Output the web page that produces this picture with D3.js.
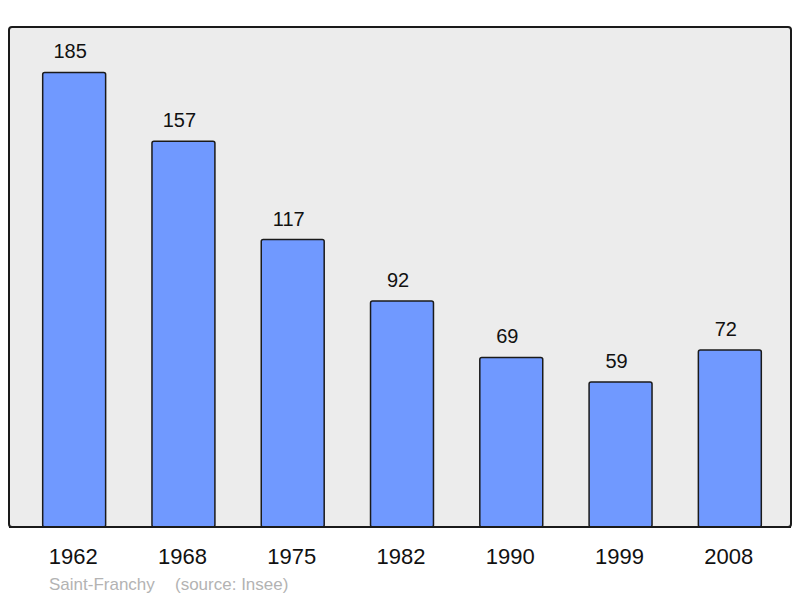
<!DOCTYPE html>
<html>
<head>
<meta charset="utf-8">
<script src="https://cdn.jsdelivr.net/npm/d3@7"></script>
<style>
  body { margin: 0; background: #fff; }
  svg { display: block; font-family: "Liberation Sans", Arial, sans-serif; }
</style>
</head>
<body>
<svg id="chart" width="800" height="598"></svg>
<script>
const years = ["1962", "1968", "1975", "1982", "1990", "1999", "2008"];
const population = [185, 157, 117, 92, 69, 59, 72];
const townName = "Saint-Franchy";
const sourceText = "(source: Insee)";

const svg = d3.select("#chart");
const frame = { left: 9, top: 27, right: 791, bottom: 527 };

const x = d3
	.scaleBand()
	.domain(years)
	.range([frame.left + 2, frame.right + 2])
	.paddingInner(0.424)
	.paddingOuter(0.29);

const y = d3
	.scaleLinear()
	.domain([0, d3.max(population) * 1.1])
	.range([frame.bottom, frame.top]);

svg.append("rect")
	.attr("x", frame.left)
	.attr("y", frame.top)
	.attr("width", frame.right - frame.left)
	.attr("height", frame.bottom - frame.top)
	.attr("rx", 3)
	.attr("fill", "#ececec")
	.attr("stroke", "#1a1a1a")
	.attr("stroke-width", 2);

const data = years.map((yr, i) => ({ year: yr, value: population[i] }));

svg.selectAll(".bar")
	.data(data)
	.join("rect")
	.attr("class", "bar")
	.attr("x", (d) => x(d.year))
	.attr("y", (d) => y(d.value))
	.attr("width", x.bandwidth())
	.attr("height", (d) => y(0) - y(d.value))
	.attr("rx", 2)
	.attr("fill", "#7099ff")
	.attr("stroke", "#1a1a1a")
	.attr("stroke-width", 1.5);

svg.selectAll(".val")
	.data(data)
	.join("text")
	.attr("class", "val")
	.attr("x", (d) => x(d.year) + x.bandwidth() / 2 - 4)
	.attr("y", (d) => y(d.value) - 14)
	.attr("text-anchor", "middle")
	.attr("font-size", 20)
	.attr("fill", "#111")
	.text((d) => d.value);

// redraw frame bottom line on top of the bars
svg.append("line")
	.attr("x1", frame.left)
	.attr("x2", frame.right)
	.attr("y1", frame.bottom)
	.attr("y2", frame.bottom)
	.attr("stroke", "#1a1a1a")
	.attr("stroke-width", 2);

const xAxis = svg.append("g")
	.attr("transform", `translate(-1, ${frame.bottom})`)
	.call(d3.axisBottom(x).tickSize(0).tickPadding(21));

xAxis.select(".domain").remove();
xAxis.selectAll("text")
	.attr("font-size", 22)
	.attr("font-family", "Liberation Sans, Arial, sans-serif")
	.attr("fill", "#111");

svg.append("text")
	.attr("x", 49)
	.attr("y", 590)
	.attr("font-size", 17)
	.attr("fill", "#b3b3b3")
	.text(townName);

svg.append("text")
	.attr("x", 175)
	.attr("y", 590)
	.attr("font-size", 17)
	.attr("fill", "#b3b3b3")
	.text(sourceText);
</script>
</body>
</html>
